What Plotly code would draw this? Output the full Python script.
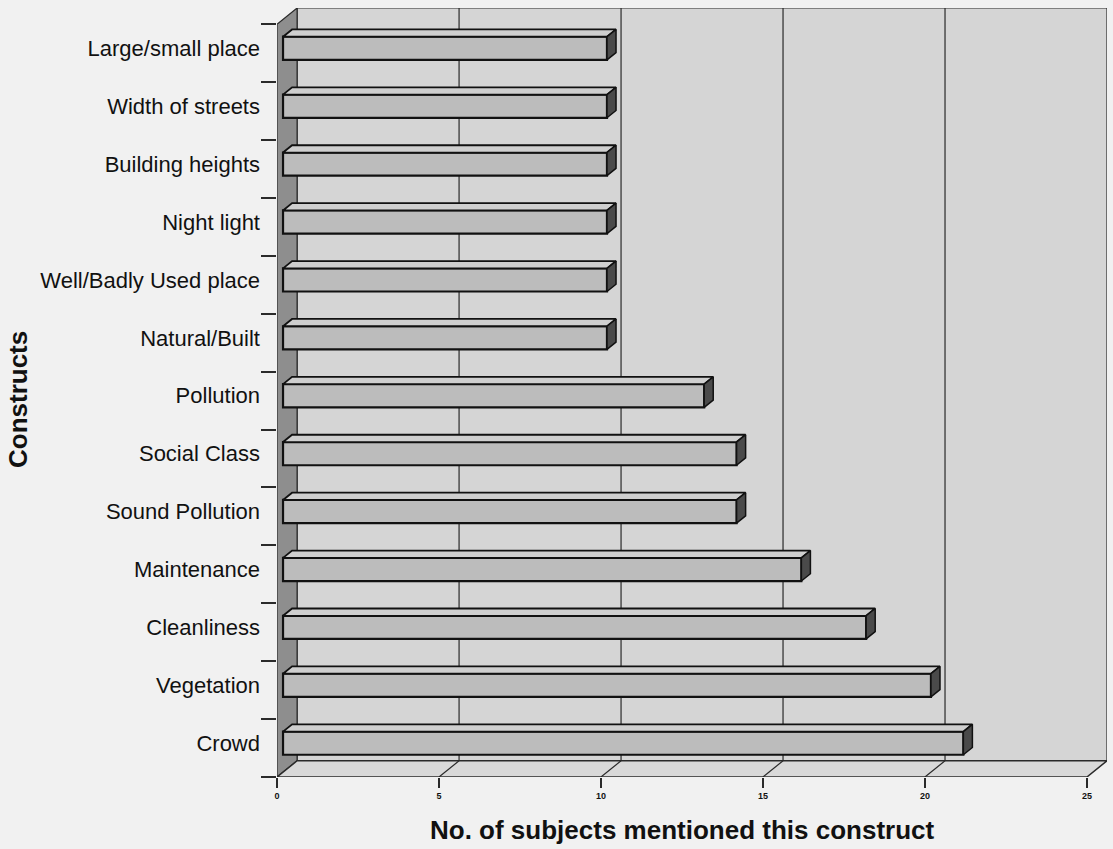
import plotly.graph_objects as go

# Constructs mentioned by subjects (bottom to top)
categories = [
    "Crowd", "Vegetation", "Cleanliness", "Maintenance", "Sound Pollution",
    "Social Class", "Pollution", "Natural/Built", "Well/Badly Used place",
    "Night light", "Building heights", "Width of streets", "Large/small place",
]
counts = [21, 20, 18, 16, 14, 14, 13, 10, 10, 10, 10, 10, 10]
x_ticks = [0, 5, 10, 15, 20, 25]

# 3-D box geometry in axis units
X_MAX = 25
DX, DY = 0.62, 0.28      # depth offset of the back wall
F1, F2 = 0.30, 0.75      # bar front/back plane as fraction of box depth
HALF = 0.2               # half height of a bar (category units)

n = len(categories)
idx = list(range(n))
y_lo, y_hi = -0.5, n - 0.5

BG = "#f1f1f1"
WALL = "#d5d5d5"
FLOOR = "#d9d9d9"
SIDE = "#8e8e8e"
EDGE = "#2a2a2a"
INK = "#111111"

fig = go.Figure()

# ---- walls of the box ----
def path(pts):
    return "M " + " L ".join(f"{x},{y}" for x, y in pts) + " Z"

shapes = []
# back wall
shapes.append(dict(type="path", xref="x", yref="y", layer="below",
                   path=path([(DX, y_lo + DY), (X_MAX + DX, y_lo + DY),
                              (X_MAX + DX, y_hi + DY), (DX, y_hi + DY)]),
                   fillcolor=WALL, line=dict(color=EDGE, width=1.2)))
# left side wall
shapes.append(dict(type="path", xref="x", yref="y", layer="below",
                   path=path([(0, y_lo), (DX, y_lo + DY),
                              (DX, y_hi + DY), (0, y_hi)]),
                   fillcolor=SIDE, line=dict(color=EDGE, width=1.2)))
# floor
shapes.append(dict(type="path", xref="x", yref="y", layer="below",
                   path=path([(0, y_lo), (X_MAX, y_lo),
                              (X_MAX + DX, y_lo + DY), (DX, y_lo + DY)]),
                   fillcolor=FLOOR, line=dict(color=EDGE, width=1.5)))
# gridlines on the back wall and their floor diagonals
for v in x_ticks[1:-1]:
    shapes.append(dict(type="line", xref="x", yref="y", layer="below",
                       x0=v + DX, y0=y_lo + DY, x1=v + DX, y1=y_hi + DY,
                       line=dict(color=EDGE, width=1.2)))
    shapes.append(dict(type="line", xref="x", yref="y", layer="below",
                       x0=v, y0=y_lo, x1=v + DX, y1=y_lo + DY,
                       line=dict(color=EDGE, width=1.2)))

# ---- bars ----
yc = [i + DY * F1 for i in idx]           # bar front-face centres
d_x = DX * (F2 - F1)
d_y = DY * (F2 - F1)
x0 = DX * F1

top_x, top_y, side_x, side_y = [], [], [], []
for y, v in zip(yc, counts):
    xe = x0 + v
    top_x += [x0, xe, xe + d_x, x0 + d_x, x0, None]
    top_y += [y + HALF, y + HALF, y + HALF + d_y, y + HALF + d_y, y + HALF, None]
    side_x += [xe, xe + d_x, xe + d_x, xe, xe, None]
    side_y += [y - HALF, y - HALF + d_y, y + HALF + d_y, y + HALF, y - HALF, None]

fig.add_trace(go.Scatter(x=top_x, y=top_y, mode="lines", fill="toself",
                         fillcolor="#cfcfcf", line=dict(color=INK, width=1.8),
                         hoverinfo="skip", showlegend=False))
fig.add_trace(go.Scatter(x=side_x, y=side_y, mode="lines", fill="toself",
                         fillcolor="#4a4a4a", line=dict(color=INK, width=1.5),
                         hoverinfo="skip", showlegend=False))
fig.add_trace(go.Bar(orientation="h", y=yc, x=counts, base=x0, width=2 * HALF,
                     marker=dict(color="#bcbcbc", line=dict(color=INK, width=2.2)),
                     showlegend=False))

fig.update_layout(
    width=1113, height=849,
    margin=dict(l=277, r=6, t=8, b=72),
    paper_bgcolor=BG, plot_bgcolor=BG,
    shapes=shapes,
    font=dict(family="Liberation Sans, Arial, sans-serif", color=INK),
    xaxis=dict(range=[0, X_MAX + DX], tickmode="array", tickvals=x_ticks,
               ticktext=[f"<b>{t}</b>" for t in x_ticks],
               ticks="outside", ticklen=10, tickwidth=1.5, tickcolor=EDGE,
               tickfont=dict(size=9, color=INK), showgrid=False, zeroline=False,
               showline=False, fixedrange=True),
    yaxis=dict(range=[y_lo, y_hi + DY], tickmode="array", tickvals=yc,
               ticktext=categories, ticks="", ticklabelstandoff=16,
               tickfont=dict(size=22, color=INK),
               minor=dict(tickmode="array",
                          tickvals=[i - 0.5 for i in range(n + 1)],
                          ticks="outside", ticklen=15, tickwidth=1.5,
                          tickcolor=EDGE, showgrid=False),
               showgrid=False, zeroline=False, showline=False, fixedrange=True),
    annotations=[
        dict(text="<b>No. of subjects mentioned this construct</b>",
             xref="paper", yref="paper", x=(682 - 277) / 830, y=-(830 - 777) / 769,
             xanchor="center", yanchor="middle", showarrow=False,
             font=dict(size=26, color=INK)),
        dict(text="<b>Constructs</b>", textangle=-90,
             xref="paper", yref="paper", x=-(277 - 18) / 830, y=(777 - 400) / 769,
             xanchor="center", yanchor="middle", showarrow=False,
             font=dict(size=26, color=INK)),
    ],
)

fig.write_html("out.html")
